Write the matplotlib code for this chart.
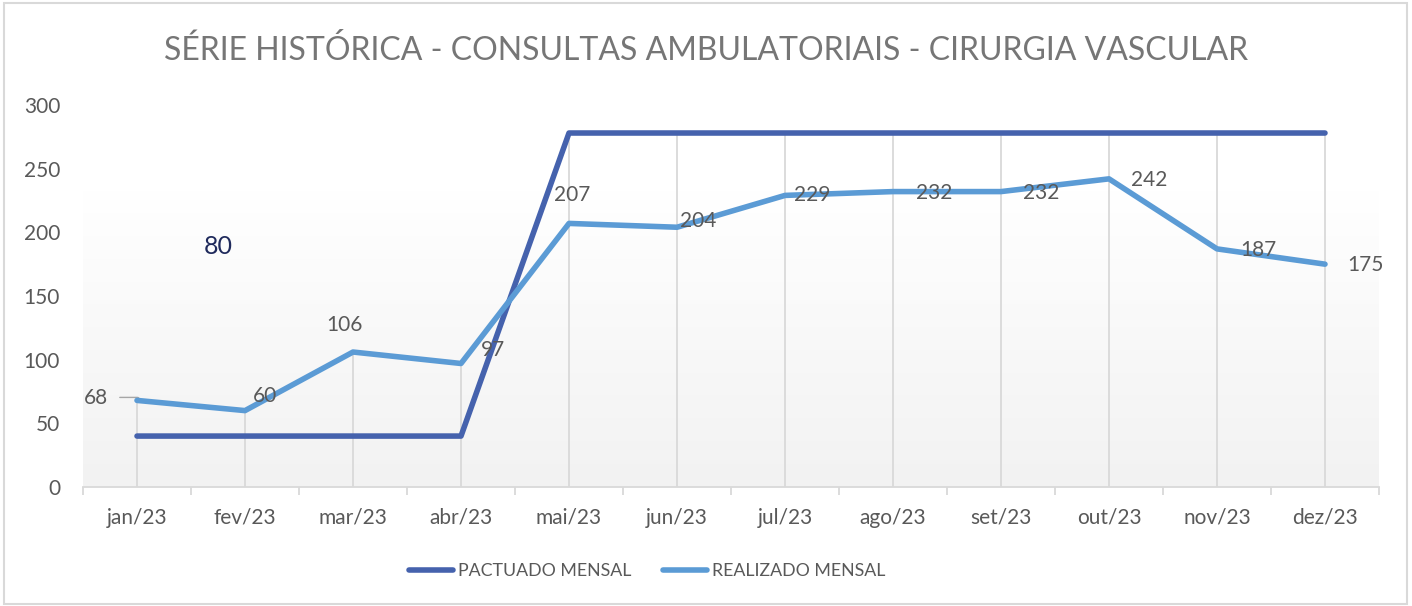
import matplotlib
matplotlib.use("Agg")
import matplotlib.pyplot as plt
import numpy as np
from matplotlib.lines import Line2D
from matplotlib.colors import LinearSegmentedColormap

months = ["jan/23", "fev/23", "mar/23", "abr/23", "mai/23", "jun/23",
          "jul/23", "ago/23", "set/23", "out/23", "nov/23", "dez/23"]
pactuado = [40, 40, 40, 40, 278, 278, 278, 278, 278, 278, 278, 278]
realizado = [68, 60, 106, 97, 207, 204, 229, 232, 232, 242, 187, 175]
yticks = [0, 50, 100, 150, 200, 250, 300]
title = "SÉRIE HISTÓRICA - CONSULTAS AMBULATORIAIS - CIRURGIA VASCULAR"
stray_label = "80"

# label offsets in pixels (dx, dy up)
label_offsets = [(-41, 2), (20, 15), (-9, 27), (32, 13), (3, 28), (21, 6),
                 (27, 0), (41, -1), (40, -1), (40, -1), (41, -1), (40, -1)]

FONT = ["Lato", "DejaVu Sans"]
plt.rcParams["font.family"] = FONT

W, H = 1412, 606
fig = plt.figure(figsize=(W / 100, H / 100), dpi=100)
ax = fig.add_axes([83 / W, 1 - 487 / H, (1379 - 83) / W, (487 - 105) / H])

x = np.arange(len(months))
ax.set_xlim(-0.5, len(months) - 0.5)
ax.set_ylim(0, 300)

# gradient background
grad = np.linspace(0, 1, 256).reshape(-1, 1)
cmap = LinearSegmentedColormap.from_list("g", ["#f2f2f2", "#ffffff"])
ax.imshow(grad, aspect="auto", cmap=cmap, origin="lower",
          extent=(-0.5, len(months) - 0.5, 0, 233), zorder=0)

# drop lines
tops = [max(a, b) for a, b in zip(pactuado, realizado)]
ax.vlines(x, 0, tops, colors="#d9d9d9", linewidth=1.3, zorder=1)

ax.plot(x, pactuado, color="#4562ad", linewidth=4, solid_capstyle="round", zorder=3)
ax.plot(x, realizado, color="#5b9bd5", linewidth=4, solid_capstyle="round", zorder=4)

for i, v in enumerate(realizado):
    dx, dy = label_offsets[i]
    ax.annotate(str(v), (x[i], v), xytext=(dx, dy), textcoords="offset pixels",
                ha="center", va="center", fontsize=15, color="#595959", zorder=5)

# leader line for first label
ax.annotate("", (x[0], realizado[0]), xytext=(-20, 3), textcoords="offset pixels",
            arrowprops=dict(arrowstyle="-", color="#a6a6a6", lw=1,
                            connectionstyle="angle,angleA=0,angleB=45,rad=3"))

ax.text(218 / W, 1 - 247 / H, stray_label, transform=fig.transFigure,
        ha="center", va="center", fontsize=18, color="#1f2a5c")

for s in ["top", "right", "left"]:
    ax.spines[s].set_visible(False)
ax.spines["bottom"].set_color("#d9d9d9")
ax.spines["bottom"].set_linewidth(1.3)

ax.set_yticks(yticks)
ax.set_yticklabels([str(t) for t in yticks])
ax.tick_params(axis="y", length=0, pad=16.5, labelsize=15, labelcolor="#595959")
ax.set_xticks(x)
ax.set_xticklabels(months)
ax.tick_params(axis="x", length=0, pad=15, labelsize=15, labelcolor="#595959")
ax.set_xticks(np.arange(-0.5, len(months), 1), minor=True)
ax.tick_params(axis="x", which="minor", length=6, width=1.3, color="#d9d9d9")

fig.text(0.5, 1 - 50 / H, title, ha="center", va="center", fontsize=23, color="#767676")

handles = [Line2D([], [], color="#4562ad", lw=4, solid_capstyle="round"),
           Line2D([], [], color="#5b9bd5", lw=4, solid_capstyle="round")]
fig.legend(handles, ["PACTUADO MENSAL", "REALIZADO MENSAL"], loc="center",
           bbox_to_anchor=(647 / W, 1 - 571 / H), ncol=2, frameon=False,
           fontsize=12.8, labelcolor="#595959", handlelength=2.5,
           handletextpad=0.25, columnspacing=1.8)

fig.patches.append(plt.Rectangle((4 / W, 2 / H), (W - 9) / W, (H - 5) / H,
                                 transform=fig.transFigure, fill=False,
                                 edgecolor="#d9d9d9", linewidth=1.5))

fig.savefig("out.png", dpi=100)
